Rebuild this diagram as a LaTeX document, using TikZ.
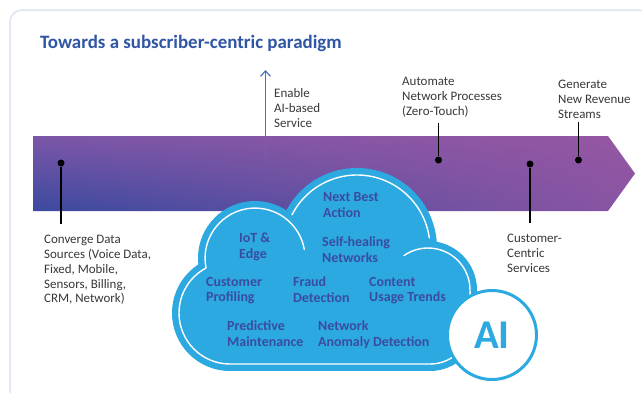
\documentclass[tikz,border=0pt]{standalone}
\usepackage{fontspec}
\setmainfont{Carlito}
\usetikzlibrary{arrows.meta,shadings}

\definecolor{framec}{HTML}{DDE5F2}
\definecolor{titlec}{HTML}{2F55A5}
\definecolor{labelc}{HTML}{383838}
\definecolor{cloudc}{HTML}{2CA9E1}
\definecolor{cloudtext}{HTML}{3A4C9F}
\definecolor{arrowc}{HTML}{4A74B8}
\definecolor{bandUL}{HTML}{7C56A8}
\definecolor{bandUR}{HTML}{9556A2}
\definecolor{bandLL}{HTML}{3A4A9F}
\definecolor{bandLR}{HTML}{8A55A3}

\begin{document}
\begin{tikzpicture}[x=1bp,y=1bp,
  lbl/.style={anchor=north west, inner sep=0pt, align=left, text=labelc,
    font=\fontsize{13}{15}\selectfont},
  ctext/.style={anchor=north west, inner sep=0pt, align=left, text=cloudtext,
    font=\bfseries\fontsize{14}{16}\selectfont},
  dotnode/.style={circle, fill=black, inner sep=0pt, minimum size=7bp},
  lead/.style={black, line width=1.3bp},
  puff/.style={fill=cloudc},
  rim/.style={white, line width=1.4bp, line cap=round, line join=round},
]
\useasboundingbox (0,0) rectangle (642,-392);
\clip (0,0) rectangle (642,-392);
\fill[white] (0,0) rectangle (642,-392);

% outer panel
\draw[framec, line width=1.5bp, rounded corners=12bp] (10,-10) rectangle (650,-402);

% heading
\node[anchor=base west, inner sep=0pt, text=titlec,
  font=\bfseries\fontsize{19}{22}\selectfont] (title) at (40,-48)
  {Towards a subscriber-centric paradigm};

% timeline band
\begin{scope}
  \clip (33,-136) -- (608,-136) -- (635,-173.5) -- (608,-211) -- (33,-211) -- cycle;
  \shade[upper left=bandUL, upper right=bandUR, lower left=bandLL, lower right=bandLR]
    (33,-136) rectangle (635,-211);
\end{scope}

% milestones on the band
\node[dotnode] (dConv) at (61,-163) {};
\node[dotnode] (dAuto) at (438.5,-160) {};
\node[dotnode] (dCust) at (530,-164) {};
\node[dotnode] (dGen)  at (578.5,-160) {};
\coordinate (cConv) at (61,-224);
\coordinate (cAuto) at (438.5,-123);
\coordinate (cCust) at (530,-223);
\coordinate (cGen)  at (578.5,-122);
\draw[lead] (dConv) -- (cConv);
\draw[lead] (dAuto) -- (cAuto);
\draw[lead] (dCust) -- (cCust);
\draw[lead] (dGen)  -- (cGen);

\coordinate (eBase) at (265.5,-158);
\coordinate (eTip)  at (265.5,-70);
\draw[arrowc, line width=1.2bp, -{Straight Barb[length=5.5bp,width=10bp]}] (eBase) -- (eTip);

% milestone texts
\node[lbl] (tConv) at (44,-234.6) {Converge Data\\Sources (Voice Data,\\Fixed, Mobile,\\Sensors, Billing,\\CRM, Network)};
\node[lbl] (tEnable) at (274,-88.1) {Enable\\AI-based\\Service};
\node[lbl] (tAuto) at (402,-77.1) {Automate\\Network Processes\\(Zero-Touch)};
\node[lbl] (tGen) at (558,-80.1) {Generate\\New Revenue\\Streams};
\node[lbl] (tCust) at (507,-234.1) {Customer-\\Centric\\Services};

% cloud body
\fill[puff] (230,-313) circle (58);
\fill[puff] (255,-258) circle (57);
\fill[puff] (357,-248) circle (80);
\fill[puff] (428,-290) circle (49);
\fill[puff] (430,-323) circle (48);
\fill[puff] (230,-260) rectangle (430,-371);

% inner rim of the cloud
\draw[rim] ([shift={(125:42)}]428,-290) arc[start angle=125, end angle=0, radius=42]
  -- ([shift={(0:41)}]430,-323) arc[start angle=0, end angle=-90, radius=41]
  -- (230,-364) arc[start angle=270, end angle=118, radius=51]
  arc[start angle=191.4, end angle=10, radius=50];
\draw[rim] ([shift={(152.9:73)}]357,-248) arc[start angle=152.9, end angle=8, radius=73];

% cloud topics
\node[ctext] (nba) at (323,-192.7) {Next Best\\Action};
\node[ctext] (iot) at (239,-232.7) {IoT \&\\Edge};
\node[ctext] (heal) at (322,-236.7) {Self-healing\\Networks};
\node[ctext] (prof) at (206,-276.7) {Customer\\Profiling};
\node[ctext] (fraud) at (293,-276.7) {Fraud\\Detection};
\node[ctext] (usage) at (369,-276.7) {Content\\Usage Trends};
\node[ctext] (maint) at (227,-320.7) {Predictive\\Maintenance};
\node[ctext] (anom) at (318,-320.7) {Network\\Anomaly Detection};

% AI badge
\node[circle, draw=cloudc, line width=3bp, fill=white, minimum size=89bp, inner sep=0pt,
  text=cloudc, font=\bfseries\fontsize{41}{41}\selectfont] (ai) at (492,-335) {AI};
\end{tikzpicture}
\end{document}
